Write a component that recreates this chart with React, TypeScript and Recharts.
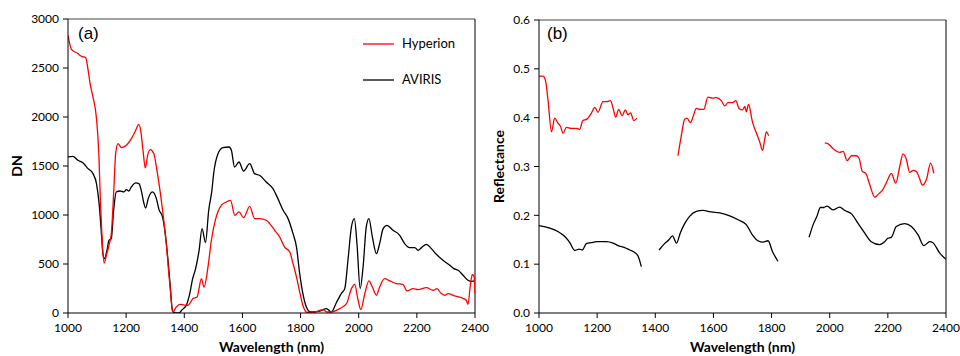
import { LineChart, Line, XAxis, YAxis, ReferenceLine, Legend } from "recharts";

// shared axis values
const wlTicks = [1000, 1200, 1400, 1600, 1800, 2000, 2200, 2400];
const dnTicks = [0, 500, 1000, 1500, 2000, 2500, 3000];
const reflTicks = [0, 0.1, 0.2, 0.3, 0.4, 0.5, 0.6];

// (a) Hyperion DN
const hypDnWl = [
  1000, 1012, 1034, 1046, 1061, 1069, 1077, 1086, 1098, 1106, 1111, 1117, 1124, 1132, 1141, 1149,
  1157, 1164, 1172, 1184, 1201, 1218, 1233, 1243, 1250, 1258, 1266, 1274, 1283, 1295, 1306, 1321,
  1338, 1350, 1361, 1372, 1385, 1400, 1413, 1430, 1444, 1459, 1468, 1482, 1493, 1508, 1528, 1545,
  1559, 1574, 1588, 1604, 1625, 1642, 1659, 1682, 1694, 1711, 1728, 1745, 1763, 1774, 1786, 1797,
  1808, 1820, 1840, 1860, 1877, 1890, 1900, 1935, 1958, 1975, 1986, 1998, 2007, 2021, 2035, 2047,
  2061, 2072, 2089, 2107, 2130, 2152, 2166, 2187, 2204, 2233, 2256, 2269, 2284, 2296, 2307, 2330,
  2353, 2370, 2376, 2384, 2391, 2397, 2400,
];
const hypDn = [
  2834, 2690, 2648, 2620, 2606, 2480, 2323, 2204, 1984, 1627, 1184, 776, 510, 589, 690, 810,
  1218, 1627, 1728, 1688, 1711, 1779, 1864, 1925, 1864, 1660, 1480, 1609, 1667, 1627, 1456, 1150,
  708, 300, 10, 60, 89, 80, 79, 147, 163, 351, 265, 480, 740, 960, 1100, 1133,
  1150, 997, 1031, 973, 1089, 963, 963, 946, 912, 844, 776, 673, 622, 504, 367, 214,
  79, 10, 5, 20, 35, 10, 10, 45, 96, 249, 293, 130, 35, 198, 327, 265,
  181, 265, 351, 327, 300, 293, 225, 249, 239, 259, 232, 249, 198, 181, 198, 174,
  157, 130, 89, 283, 395, 367, 200,
];

// (a) AVIRIS DN
const avDnWl = [
  1000, 1017, 1034, 1052, 1069, 1086, 1098, 1107, 1115, 1120, 1126, 1134, 1141, 1149, 1157, 1166,
  1178, 1192, 1201, 1209, 1218, 1233, 1244, 1252, 1260, 1267, 1276, 1290, 1304, 1313, 1325, 1336,
  1344, 1352, 1359, 1367, 1382, 1393, 1407, 1419, 1428, 1439, 1451, 1461, 1473, 1484, 1495, 1501,
  1516, 1533, 1554, 1562, 1573, 1588, 1604, 1625, 1642, 1659, 1682, 1705, 1722, 1740, 1757, 1774,
  1786, 1797, 1808, 1820, 1834, 1866, 1889, 1906, 1923, 1940, 1952, 1963, 1975, 1985, 1994, 2005,
  2015, 2026, 2035, 2047, 2061, 2072, 2084, 2097, 2118, 2141, 2158, 2175, 2193, 2204, 2216, 2233,
  2250, 2267, 2290, 2313, 2327, 2342, 2359, 2376, 2388, 2400,
];
const avDn = [
  1592, 1599, 1558, 1531, 1473, 1422, 1320, 1116, 810, 606, 555, 640, 742, 759, 1048, 1235,
  1245, 1235, 1259, 1245, 1286, 1327, 1320, 1252, 1133, 1071, 1167, 1235, 1167, 1055, 980, 776,
  538, 265, 28, 0, 0, 35, 79, 200, 340, 453, 640, 860, 720, 1048, 1252, 1422,
  1626, 1688, 1694, 1660, 1490, 1541, 1449, 1524, 1422, 1405, 1337, 1269, 1167, 1048, 963, 810,
  673, 402, 198, 61, 10, 20, 45, 10, 104, 198, 249, 538, 878, 963, 708, 249,
  469, 878, 963, 776, 606, 708, 861, 895, 844, 793, 708, 667, 667, 640, 667, 701,
  657, 599, 538, 487, 453, 436, 385, 334, 323, 327,
];

// (b) Hyperion reflectance (null = gap)
const hypRefWl = [
  1000, 1014, 1022, 1031, 1043, 1054, 1065, 1074, 1083, 1094, 1111, 1129, 1140, 1151, 1165, 1180,
  1192, 1203, 1220, 1234, 1246, 1255, 1264, 1274, 1286, 1297, 1306, 1315, 1326, 1337, 1400,
  1478, 1490, 1501, 1509, 1521, 1530, 1541, 1553, 1567, 1581, 1597, 1610, 1627, 1639, 1650, 1667,
  1677, 1688, 1700, 1708, 1713, 1721, 1734, 1748, 1759, 1769, 1776, 1782, 1790, 1900,
  1983, 1989, 2011, 2034, 2046, 2060, 2075, 2092, 2101, 2112, 2124, 2138, 2155, 2170, 2181, 2195,
  2212, 2227, 2241, 2252, 2264, 2275, 2287, 2298, 2307, 2319, 2333, 2347, 2358,
];
const hypRef = [
  0.485, 0.485, 0.477, 0.436, 0.371, 0.399, 0.389, 0.382, 0.368, 0.38, 0.378, 0.378, 0.376, 0.394, 0.397, 0.409,
  0.421, 0.411, 0.433, 0.433, 0.435, 0.419, 0.401, 0.417, 0.404, 0.416, 0.406, 0.41, 0.394, 0.399, null,
  0.322, 0.365, 0.397, 0.399, 0.39, 0.402, 0.419, 0.417, 0.417, 0.442, 0.44, 0.441, 0.435, 0.424, 0.431, 0.431,
  0.435, 0.419, 0.416, 0.423, 0.412, 0.427, 0.392, 0.368, 0.351, 0.333, 0.354, 0.371, 0.363, null,
  0.348, 0.348, 0.337, 0.329, 0.331, 0.312, 0.322, 0.322, 0.317, 0.29, 0.286, 0.262, 0.237, 0.245, 0.251, 0.267,
  0.286, 0.266, 0.3, 0.326, 0.314, 0.288, 0.292, 0.29, 0.279, 0.262, 0.274, 0.307, 0.286,
];

// (b) AVIRIS reflectance (null = gap)
const avRefWl = [
  1000, 1037, 1065, 1088, 1106, 1123, 1138, 1149, 1163, 1180, 1197, 1232, 1255, 1272, 1295, 1312,
  1329, 1341, 1352, 1380,
  1413, 1432, 1447, 1459, 1473, 1486, 1501, 1518, 1541, 1564, 1593, 1622, 1656, 1685, 1713, 1734,
  1753, 1771, 1788, 1803, 1822, 1880,
  1929, 1943, 1956, 1968, 1979, 1991, 2011, 2034, 2052, 2075, 2097, 2120, 2143, 2172, 2189, 2200,
  2212, 2229, 2258, 2281, 2304, 2324, 2344, 2355, 2378, 2400,
];
const avRef = [
  0.179, 0.174, 0.167, 0.157, 0.144, 0.128, 0.131, 0.129, 0.142, 0.144, 0.146, 0.146, 0.143, 0.138, 0.134, 0.129,
  0.124, 0.116, 0.095, null,
  0.129, 0.142, 0.15, 0.158, 0.143, 0.164, 0.183, 0.198, 0.208, 0.21, 0.207, 0.205, 0.199, 0.191, 0.181, 0.16,
  0.148, 0.145, 0.148, 0.126, 0.106, null,
  0.155, 0.181, 0.198, 0.216, 0.216, 0.219, 0.211, 0.217, 0.21, 0.203, 0.184, 0.164, 0.146, 0.14, 0.146, 0.153,
  0.155, 0.177, 0.183, 0.177, 0.16, 0.138, 0.146, 0.144, 0.123, 0.11,
];

const toPoints = (wl: number[], v: (number | null)[]) => wl.map((w, i) => ({ wl: w, v: v[i] }));

const font = "Lato, 'Liberation Sans', sans-serif";
const tickStyle = { fill: "#000", fontSize: 12, fontFamily: font };
const titleStyle = { fill: "#000", fontSize: 14, fontWeight: 700, fontFamily: font };

function LegendBox() {
  return (
    <svg width={110} height={70} style={{ fontFamily: font, fontSize: 13 }}>
      <line x1={8} x2={39} y1={14} y2={14} stroke="#ff0000" strokeWidth={1.3} />
      <text x={47} y={18} fill="#000">Hyperion</text>
      <line x1={8} x2={39} y1={50} y2={50} stroke="#000" strokeWidth={1.3} />
      <text x={47} y={54} fill="#000">AVIRIS</text>
    </svg>
  );
}

const panelLabel = (left: number): React.CSSProperties => ({
  position: "absolute",
  left,
  top: 24,
  fontFamily: "'Liberation Sans', Arial, sans-serif",
  fontSize: 17,
  color: "#000",
});

export default function App() {
  return (
    <div style={{ position: "absolute", left: 0, top: 0, width: 960, height: 356, background: "#fff" }}>
      <div style={{ position: "absolute", left: 0, top: 0 }}>
        <LineChart width={500} height={356} margin={{ top: 19, right: 25, left: 0, bottom: 0 }}>
          <XAxis
            dataKey="wl"
            type="number"
            domain={[1000, 2400]}
            ticks={wlTicks}
            allowDataOverflow
            height={43}
            stroke="#000"
            tick={tickStyle}
            tickSize={5}
            tickMargin={5}
            label={{ value: "Wavelength (nm)", position: "insideBottom", offset: 4, style: titleStyle }}
          />
          <YAxis
            type="number"
            domain={[0, 3000]}
            ticks={dnTicks}
            allowDataOverflow
            width={68}
            stroke="#000"
            tick={tickStyle}
            tickSize={5}
            tickMargin={4}
            label={{ value: "DN", angle: -90, position: "insideLeft", offset: 17, style: { ...titleStyle, textAnchor: "middle" } }}
          />
          <ReferenceLine y={3000} stroke="#444" />
          <ReferenceLine x={2400} stroke="#000" />
          <Legend
            layout="vertical"
            align="center"
            verticalAlign="middle"
            wrapperStyle={{ position: "absolute", left: 355, top: 30, width: 110, height: 70 }}
            content={() => <LegendBox />}
          />
          <Line
            data={toPoints(avDnWl, avDn)}
            dataKey="v"
            name="AVIRIS"
            type="monotone"
            stroke="#000"
            strokeWidth={1.3}
            dot={false}
            isAnimationActive={false}
          />
          <Line
            data={toPoints(hypDnWl, hypDn)}
            dataKey="v"
            name="Hyperion"
            type="monotone"
            stroke="#ff0000"
            strokeWidth={1.3}
            dot={false}
            isAnimationActive={false}
          />
        </LineChart>
      </div>
      <div style={{ position: "absolute", left: 480, top: 0 }}>
        <LineChart width={480} height={356} margin={{ top: 20, right: 14, left: 0, bottom: 0 }}>
          <XAxis
            dataKey="wl"
            type="number"
            domain={[1000, 2400]}
            ticks={wlTicks}
            allowDataOverflow
            height={43}
            stroke="#000"
            tick={tickStyle}
            tickSize={5}
            tickMargin={5}
            label={{ value: "Wavelength (nm)", position: "insideBottom", offset: 4, style: titleStyle }}
          />
          <YAxis
            type="number"
            domain={[0, 0.6]}
            ticks={reflTicks}
            allowDataOverflow
            width={59}
            stroke="#000"
            tick={tickStyle}
            tickSize={5}
            tickMargin={4}
            tickFormatter={(v: number) => v.toFixed(1)}
            label={{ value: "Reflectance", angle: -90, position: "insideLeft", offset: 19, style: { ...titleStyle, textAnchor: "middle" } }}
          />
          <ReferenceLine y={0.6} stroke="#444" />
          <ReferenceLine x={2400} stroke="#000" />
          <Line
            data={toPoints(avRefWl, avRef)}
            dataKey="v"
            name="AVIRIS"
            type="monotone"
            stroke="#000"
            strokeWidth={1.3}
            dot={false}
            connectNulls={false}
            isAnimationActive={false}
          />
          <Line
            data={toPoints(hypRefWl, hypRef)}
            dataKey="v"
            name="Hyperion"
            type="monotone"
            stroke="#ff0000"
            strokeWidth={1.3}
            dot={false}
            connectNulls={false}
            isAnimationActive={false}
          />
        </LineChart>
      </div>
      <div style={panelLabel(78)}>(a)</div>
      <div style={panelLabel(547)}>(b)</div>
    </div>
  );
}
